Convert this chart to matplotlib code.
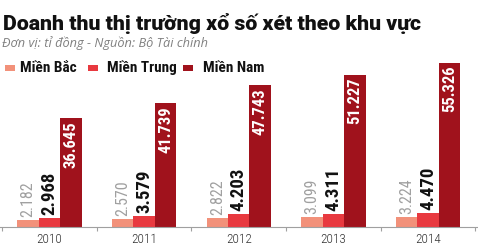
import matplotlib
matplotlib.use('Agg')
import matplotlib.pyplot as plt
from matplotlib import font_manager as fm
from matplotlib.patches import Rectangle
from matplotlib.ticker import FixedLocator, NullFormatter
import numpy as np

# ---------------- data ----------------
years = ['2010', '2011', '2012', '2013', '2014']
mien_bac = [2182, 2570, 2822, 3099, 3224]
mien_trung = [2968, 3579, 4203, 4311, 4470]
mien_nam = [36645, 41739, 47743, 51227, 55326]
series_names = ['Miền Bắc', 'Miền Trung', 'Miền Nam']
title_text = 'Doanh thu thị trường xổ số xét theo khu vực'
subtitle_text = 'Đơn vị: tỉ đồng - Nguồn: Bộ Tài chính'

colors = ['#F2917A', '#E8393F', '#A0121C']

# ---------------- fonts ----------------
names = {f.name for f in fm.fontManager.ttflist}
condensed_dejavu = any(f.name == 'DejaVu Sans' and f.stretch == 'condensed'
                       for f in fm.fontManager.ttflist)


def pick(*cands):
    for c in cands:
        if c in names:
            return c
    return None


narrow = pick('Liberation Sans Narrow', 'Roboto Condensed', 'Open Sans Condensed',
              'Noto Sans Condensed', 'Arial Narrow')
if narrow is None:
    narrow = 'DejaVu Sans' if condensed_dejavu else 'Liberation Sans'
stretch = 'condensed'
title_font = pick('Roboto', 'Liberation Sans') or 'DejaVu Sans'

W, H = 478, 248
fig = plt.figure(figsize=(W / 100, H / 100), dpi=100)


def fx(px):
    return px / W


def fy(py):
    return 1 - py / H


# axes geometry (pixels)
ax_left, ax_right = 0.3, 477.2
ax_top, ax_bottom = 60.0, 226.5
ax = fig.add_axes([fx(ax_left), fy(ax_bottom), fx(ax_right - ax_left), (ax_bottom - ax_top) / H])

x = np.arange(len(years))
bw = 0.227
series = [mien_bac, mien_trung, mien_nam]
for i, (vals, c, name) in enumerate(zip(series, colors, series_names)):
    ax.bar(x + (i - 1) * bw, vals, width=bw, color=c, label=name, linewidth=0)

ax.set_xlim(-0.52, 4.52)
ax.set_ylim(0, (ax_bottom - ax_top) / 2.96 * 1000)


def fmt(v):
    return f"{v:,}".replace(',', '.')


px2pt = 72 / 100
for xi, v in zip(x, mien_bac):
    ax.annotate(fmt(v), (xi - bw, v), xytext=(0, 3 * px2pt), textcoords='offset points',
                rotation=90, ha='center', va='bottom', fontsize=11.5, color='#a0a0a0',
                family=narrow, fontstretch=stretch)
for xi, v in zip(x, mien_trung):
    ax.annotate(fmt(v), (xi, v), xytext=(0, 3 * px2pt), textcoords='offset points',
                rotation=90, ha='center', va='bottom', fontsize=13.5, color='#111111',
                family=narrow, fontstretch=stretch, fontweight='bold')
for xi, v in zip(x, mien_nam):
    ax.annotate(fmt(v), (xi + bw, v), xytext=(0, -3 * px2pt), textcoords='offset points',
                rotation=90, ha='center', va='top', fontsize=12, color='white',
                family=narrow, fontstretch=stretch, fontweight='bold')

for s in ['top', 'left', 'right']:
    ax.spines[s].set_visible(False)
ax.spines['bottom'].set_color('#a0a0a0')
ax.spines['bottom'].set_linewidth(0.8)
ax.set_yticks([])
ax.set_xticks(x)
ax.set_xticklabels(years, family=narrow, fontstretch=stretch, fontsize=9.5,
                   color='#333333', fontweight='light')
ax.tick_params(axis='x', which='major', length=0, pad=4.5)
ax.xaxis.set_minor_locator(FixedLocator(np.arange(-0.5, 5, 1.0)))
ax.xaxis.set_minor_formatter(NullFormatter())
ax.tick_params(axis='x', which='minor', length=3, width=0.8, color='#a0a0a0')

# ---------------- title & subtitle ----------------
fig.text(fx(3), fy(30), title_text, ha='left', va='baseline', fontsize=15.3,
         fontweight='black', family=title_font, color='#111111')
fig.text(fx(2), fy(47.5), subtitle_text, ha='left', va='baseline', fontsize=9.2,
         fontstyle='italic', family='Open Sans', color='#808080')

# ---------------- legend ----------------
sq_x = [5, 88, 183]
tx_x = [20, 107, 203]
for sx, tx, c, name in zip(sq_x, tx_x, colors, series_names):
    fig.patches.append(Rectangle((fx(sx), fy(71)), fx(10), 6 / H, transform=fig.transFigure,
                                 color=c, linewidth=0))
    fig.text(fx(tx), fy(72), name, ha='left', va='baseline', fontsize=11,
             family=narrow, fontstretch=stretch, fontweight='bold', color='#111111')

fig.savefig('out.png', dpi=100)
